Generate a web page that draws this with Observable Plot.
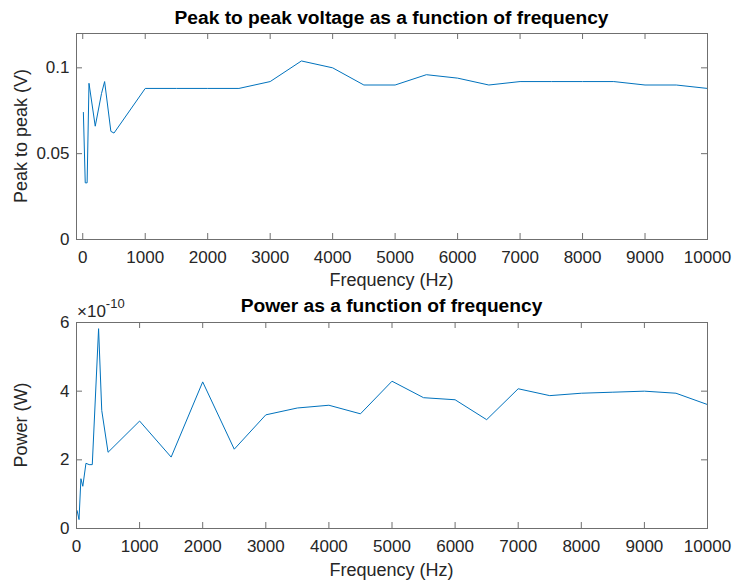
<!DOCTYPE html>
<html>
<head>
<meta charset="utf-8">
<script src="https://cdn.jsdelivr.net/npm/d3@7"></script>
<script src="https://cdn.jsdelivr.net/npm/@observablehq/plot@0.6"></script>
<style>
  body { margin: 0; background: #fff; }
  #fig { position: relative; width: 733px; height: 582px; background: #fff;
         font-family: "Liberation Sans", Arial, Helvetica, sans-serif; color: #262626; }
  #fig svg { position: absolute; left: 0; }
  .t { position: absolute; white-space: nowrap; line-height: 1.15; }
  .title { font-weight: bold; font-size: 19.2px; color: #000; transform: translate(-50%, -50%); }
  .xl { font-size: 18px; transform: translate(-50%, -50%); }
  .yl { font-size: 18px; transform: translate(-50%, -50%) rotate(-90deg); }
  .exp { font-size: 17px; }
  .exp sup { font-size: 13px; position: relative; top: -2px; }
</style>
</head>
<body>
<div id="fig">
  <div class="t title" style="left:391.5px; top:18px;">Peak to peak voltage as a function of frequency</div>
  <div class="t xl" style="left:391.5px; top:280px;">Frequency (Hz)</div>
  <div class="t yl" style="left:21px; top:136px;">Peak to peak (V)</div>
  <div class="t title" style="left:391.5px; top:306px;">Power as a function of frequency</div>
  <div class="t exp" style="left:77px; top:299px;">×10<sup>-10</sup></div>
  <div class="t xl" style="left:391.5px; top:570px;">Frequency (Hz)</div>
  <div class="t yl" style="left:21px; top:425px;">Power (W)</div>
</div>
<script>
// Peak-to-peak voltage measurements (Hz, V)
const vppFreq = [10, 40, 70, 100, 200, 300, 350, 450, 500,
  1000, 1500, 2000, 2500, 3000, 3500, 4000, 4500, 5000, 5500,
  6000, 6500, 7000, 7500, 8000, 8500, 9000, 9500, 10000];
const vppVolts = [0.074, 0.033, 0.033, 0.091, 0.066, 0.085, 0.092, 0.063, 0.062,
  0.088, 0.088, 0.088, 0.088, 0.092, 0.104, 0.100, 0.090, 0.090, 0.096,
  0.094, 0.090, 0.092, 0.092, 0.092, 0.092, 0.090, 0.090, 0.088];

// Power measurements (Hz, W)
const powFreq = [10, 40, 70, 100, 150, 200, 250, 350, 400, 500,
  1000, 1500, 2000, 2500, 3000, 3500, 4000, 4500, 5000, 5500,
  6000, 6500, 7000, 7500, 8000, 8500, 9000, 9500, 10000];
const powWatts = [0.52e-10, 0.26e-10, 1.45e-10, 1.23e-10, 1.90e-10, 1.86e-10, 1.86e-10, 5.82e-10, 3.44e-10, 2.22e-10,
  3.13e-10, 2.08e-10, 4.27e-10, 2.31e-10, 3.31e-10, 3.51e-10, 3.59e-10, 3.34e-10, 4.29e-10, 3.81e-10,
  3.75e-10, 3.17e-10, 4.07e-10, 3.87e-10, 3.94e-10, 3.97e-10, 4.00e-10, 3.94e-10, 3.61e-10];

// Axis ticks
const freqTicks = [0, 1000, 2000, 3000, 4000, 5000, 6000, 7000, 8000, 9000, 10000];
const vppTicks = [0, 0.05, 0.1];
const powTicks = [0, 2e-10, 4e-10, 6e-10];

const LINE = "#0072BD";
const AXIS = "#6f6f6f";
const TEXT = "#262626";

const W = 733, H = 291, ML = 76, MR = 26;
const TICK = 6; // inward tick length, px

function panel({freq, values, xDomain, yDomain, yTicks, yFormat, top, marginTop, marginBottom}) {
  const data = freq.map((f, i) => ({f, v: values[i]}));
  const frameW = W - ML - MR;
  const frameH = H - marginTop - marginBottom;
  const svg = Plot.plot({
    width: W,
    height: H,
    marginTop, marginBottom,
    marginLeft: ML,
    marginRight: MR,
    style: {fontFamily: "'Liberation Sans', Arial, sans-serif", fontSize: "17px", color: TEXT, background: "none", overflow: "visible"},
    x: {domain: xDomain},
    y: {domain: yDomain},
    marks: [
      Plot.line(data, {x: "f", y: "v", stroke: LINE, strokeWidth: 1}),
      // inward tick marks on all four sides of the box
      Plot.tickX(freqTicks, {x: d => d, stroke: AXIS, insetTop: frameH - TICK}),
      Plot.tickX(freqTicks, {x: d => d, stroke: AXIS, insetBottom: frameH - TICK}),
      Plot.tickY(yTicks, {y: d => d, stroke: AXIS, insetRight: frameW - TICK}),
      Plot.tickY(yTicks, {y: d => d, stroke: AXIS, insetLeft: frameW - TICK}),
      Plot.frame({stroke: AXIS, strokeWidth: 1}),
      // tick labels
      Plot.axisX({anchor: "bottom", ticks: freqTicks, tickSize: 0, tickPadding: 11, tickFormat: d3.format("d"), label: null, fill: TEXT}),
      Plot.axisY({anchor: "left", ticks: yTicks, tickSize: 0, tickPadding: 7, tickFormat: yFormat, label: null, fill: TEXT})
    ]
  });
  svg.style.top = top + "px";
  document.getElementById("fig").appendChild(svg);
}

panel({
  freq: vppFreq, values: vppVolts,
  xDomain: [-100, 10000], yDomain: [0, 0.12],
  yTicks: vppTicks, yFormat: d => String(d),
  top: 0, marginTop: 33, marginBottom: 52
});

panel({
  freq: powFreq, values: powWatts,
  xDomain: [0, 10000], yDomain: [0, 6e-10],
  yTicks: powTicks, yFormat: d => String(Math.round(d * 1e10)),
  top: 291, marginTop: 31, marginBottom: 54
});
</script>
</body>
</html>
